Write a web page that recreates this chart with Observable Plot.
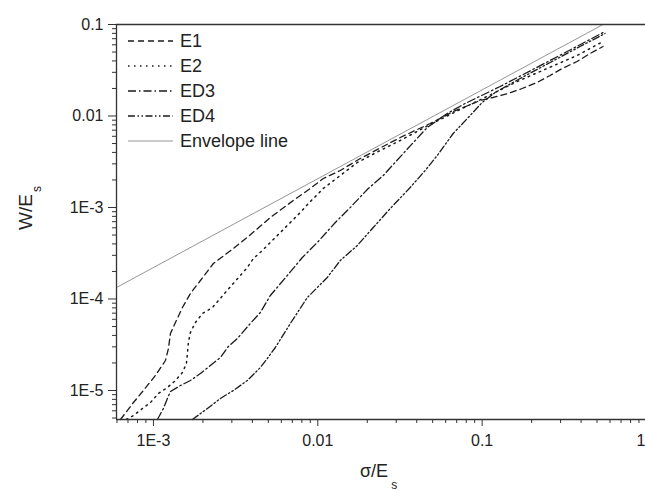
<!DOCTYPE html>
<html><head><meta charset="utf-8">
<script src="https://cdn.jsdelivr.net/npm/d3@7"></script>
<script src="https://cdn.jsdelivr.net/npm/@observablehq/plot@0.6"></script>
<style>body{margin:0;background:#fff}</style>
</head><body><div id="chart"></div>
<script>
const seriesNames = ["E1", "E2", "ED3", "ED4", "Envelope line"];

const e1Sigma = [6.30e-4, 7.56e-4, 8.69e-4, 1.028e-3, 1.183e-3, 1.234e-3, 1.269e-3, 1.361e-3, 1.501e-3, 1.679e-3, 1.931e-3, 2.316e-3, 3.064e-3, 3.78e-3, 5.143e-3, 7.097e-3, 9.0e-3, 1.08e-2, 1.37e-2, 1.813e-2, 3.173e-2, 4.83e-2, 5.713e-2, 6.664e-2, 8.22e-2, 9.72e-2, 0.1167, 0.1439, 0.1751, 0.2159, 0.259, 0.3064, 0.3781, 0.4534, 0.5441];
const e1W = [4.82e-6, 7.39e-6, 1.0e-5, 1.458e-5, 2.127e-5, 2.877e-5, 4.198e-5, 5.535e-5, 8.07e-5, 1.148e-4, 1.593e-4, 2.443e-4, 3.563e-4, 4.82e-4, 7.775e-4, 1.193e-3, 1.613e-3, 2.074e-3, 2.537e-3, 3.431e-3, 5.821e-3, 8.28e-3, 9.63e-3, 1.12e-2, 1.302e-2, 1.477e-2, 1.593e-2, 1.762e-2, 1.998e-2, 2.323e-2, 2.771e-2, 3.304e-2, 3.94e-2, 4.82e-2, 5.745e-2];

const e2Sigma = [6.85e-4, 7.56e-4, 8.57e-4, 9.59e-4, 1.072e-3, 1.216e-3, 1.361e-3, 1.501e-3, 1.587e-3, 1.61e-3, 1.632e-3, 1.679e-3, 1.80e-3, 1.986e-3, 2.285e-3, 2.74e-3, 3.727e-3, 4.055e-3, 4.598e-3, 5.673e-3, 6.345e-3, 7.83e-3, 8.76e-3, 1.08e-2, 1.37e-2, 1.739e-2, 2.399e-2, 3.173e-2, 4.83e-2, 7.35e-2, 0.1234, 0.1633, 0.2484, 0.3781, 0.5441];
const e2W = [4.82e-6, 5.33e-6, 6.36e-6, 7.39e-6, 9.27e-6, 1.078e-5, 1.286e-5, 1.572e-5, 1.972e-5, 2.537e-5, 3.346e-5, 4.305e-5, 5.535e-5, 6.94e-5, 8.07e-5, 1.178e-4, 2.21e-4, 2.77e-4, 3.389e-4, 4.943e-4, 6.045e-4, 8.817e-4, 1.106e-3, 1.613e-3, 2.237e-3, 3.103e-3, 4.198e-3, 5.40e-3, 8.07e-3, 1.178e-2, 1.852e-2, 2.382e-2, 3.304e-2, 4.58e-2, 6.52e-2];

const ed3Sigma = [1.057e-3, 1.15e-3, 1.216e-3, 1.269e-3, 1.459e-3, 1.679e-3, 1.931e-3, 2.22e-3, 2.555e-3, 2.857e-3, 3.24e-3, 3.888e-3, 4.472e-3, 5.143e-3, 6.525e-3, 8.05e-3, 9.93e-3, 1.278e-2, 1.576e-2, 2.028e-2, 2.502e-2, 3.31e-2, 4.63e-2, 6.127e-2, 7.88e-2, 0.1287, 0.259, 0.5595];
const ed3W = [4.82e-6, 6.36e-6, 8.18e-6, 9.75e-6, 1.134e-5, 1.286e-5, 1.533e-5, 1.875e-5, 2.294e-5, 3.026e-5, 3.70e-5, 5.40e-5, 7.12e-5, 1.092e-4, 1.806e-4, 2.841e-4, 4.145e-4, 6.855e-4, 1.0e-3, 1.613e-3, 2.237e-3, 3.891e-3, 7.485e-3, 1.065e-2, 1.37e-2, 2.101e-2, 4.04e-2, 8.38e-2];

const ed4Sigma = [1.726e-3, 2.13e-3, 2.555e-3, 3.064e-3, 3.727e-3, 4.472e-3, 4.93e-3, 5.516e-3, 6.81e-3, 8.636e-3, 1.142e-2, 1.37e-2, 1.739e-2, 2.175e-2, 2.76e-2, 3.65e-2, 4.502e-2, 5.326e-2, 6.664e-2, 8.45e-2, 0.1, 0.12, 0.1702, 0.259, 0.3943, 0.5595];
const ed4W = [4.82e-6, 6.36e-6, 8.18e-6, 1.0e-5, 1.286e-5, 1.783e-5, 2.237e-5, 2.951e-5, 5.40e-5, 1.038e-4, 1.718e-4, 2.635e-4, 3.843e-4, 6.045e-4, 9.752e-4, 1.654e-3, 2.537e-3, 3.70e-3, 6.437e-3, 1.013e-2, 1.405e-2, 1.806e-2, 2.569e-2, 3.843e-2, 5.745e-2, 7.97e-2];

const envSigma = [5.96e-4, 0.5441];
const envW = [1.336e-4, 0.1];

const xTickValues = [1e-3, 1e-2, 1e-1, 1];
const xTickLabels = ["1E-3", "0.01", "0.1", "1"];
const yTickValues = [1e-5, 1e-4, 1e-3, 1e-2, 1e-1];
const yTickLabels = ["1E-5", "1E-4", "1E-3", "0.01", "0.1"];

const xDomain = [5.96e-4, 1];
const yDomain = [4.82e-6, 0.1];

const toRows = (name, s, w) => s.map((v, i) => ({series: name, sigma: v, W: w[i]}));
const seriesData = [
  toRows(seriesNames[0], e1Sigma, e1W),
  toRows(seriesNames[1], e2Sigma, e2W),
  toRows(seriesNames[2], ed3Sigma, ed3W),
  toRows(seriesNames[3], ed4Sigma, ed4W),
  toRows(seriesNames[4], envSigma, envW)
];
const dashes = ["6,4", "1.5,4.5", "8,3,1.5,3", "7,2.5,1.5,2.5,1.5,2.5", null];
const strokes = ["#1a1a1a", "#1a1a1a", "#1a1a1a", "#1a1a1a", "#8a8a8a"];
const widths = [1.3, 1.5, 1.3, 1.3, 0.9];

function minorTicks(lo, hi) {
  const out = [];
  for (let e = -7; e <= 1; e++) for (let m = 2; m <= 9; m++) {
    const v = m * Math.pow(10, e);
    if (v > lo && v < hi) out.push(v);
  }
  return out;
}
const xMinor = minorTicks(xDomain[0], xDomain[1]);
const yMinor = minorTicks(yDomain[0], yDomain[1]);

const axisColor = "#333";
const chart = Plot.plot({
  width: 645, height: 491,
  marginLeft: 116, marginRight: 0, marginTop: 24, marginBottom: 72,
  style: {fontFamily: "'Liberation Sans', Arial, sans-serif", fontSize: "16px", color: "#222", background: "#fff"},
  x: {type: "log", domain: xDomain, range: [116, 646]},
  y: {type: "log", domain: yDomain},
  marks: [
    Plot.axisX(xMinor, {tickSize: 4, tickFormat: () => "", stroke: axisColor, label: null}),
    Plot.axisY(yMinor, {tickSize: 4, tickFormat: () => "", stroke: axisColor, label: null}),
    Plot.axisX(xTickValues, {tickSize: 7, tickPadding: 8, tickFormat: d => xTickLabels[xTickValues.indexOf(d)], stroke: axisColor, fill: "#222", label: null}),
    Plot.axisY(yTickValues, {tickSize: 8, tickPadding: 5, tickFormat: d => yTickLabels[yTickValues.indexOf(d)], stroke: axisColor, fill: "#222", label: null}),
    ...seriesData.map((rows, i) => Plot.line(rows, {x: "sigma", y: "W", stroke: strokes[i], strokeWidth: widths[i], strokeDasharray: dashes[i]})),
    Plot.ruleX([xDomain[0]], {stroke: axisColor, strokeWidth: 1.3}),
    Plot.ruleY([yDomain[0], yDomain[1]], {stroke: axisColor, strokeWidth: 1.3})
  ]
});

const svg = d3.select(chart);
// keep the last x tick label ("1") inside the picture edge
svg.selectAll("text").filter(function () { return this.textContent === "1"; })
  .attr("text-anchor", "end").attr("dx", -1);

// axis titles
const xt = svg.append("text").attr("x", 360).attr("y", 477)
  .attr("text-anchor", "start").attr("font-size", 18).attr("fill", "#222");
xt.append("tspan").text("σ/E");
xt.append("tspan").attr("dx", 3).attr("dy", 12).attr("font-size", 12).text("s");

const yt = svg.append("text").attr("transform", "translate(32,230) rotate(-90)")
  .attr("text-anchor", "start").attr("font-size", 19).attr("fill", "#222");
yt.append("tspan").text("W/E");
yt.append("tspan").attr("dx", 2).attr("dy", 9).attr("font-size", 12).text("s");

// legend
const lg = svg.append("g").attr("text-anchor", "start");
seriesNames.forEach((name, i) => {
  const y = 41 + i * 25;
  lg.append("line").attr("x1", 128).attr("x2", 173).attr("y1", y).attr("y2", y)
    .attr("stroke", strokes[i]).attr("stroke-width", widths[i])
    .attr("stroke-dasharray", dashes[i]);
  lg.append("text").attr("x", 180).attr("y", y).attr("dy", "0.36em")
    .attr("font-size", 18).attr("fill", "#222").text(name);
});

document.getElementById("chart").appendChild(chart);
</script>
</body></html>
